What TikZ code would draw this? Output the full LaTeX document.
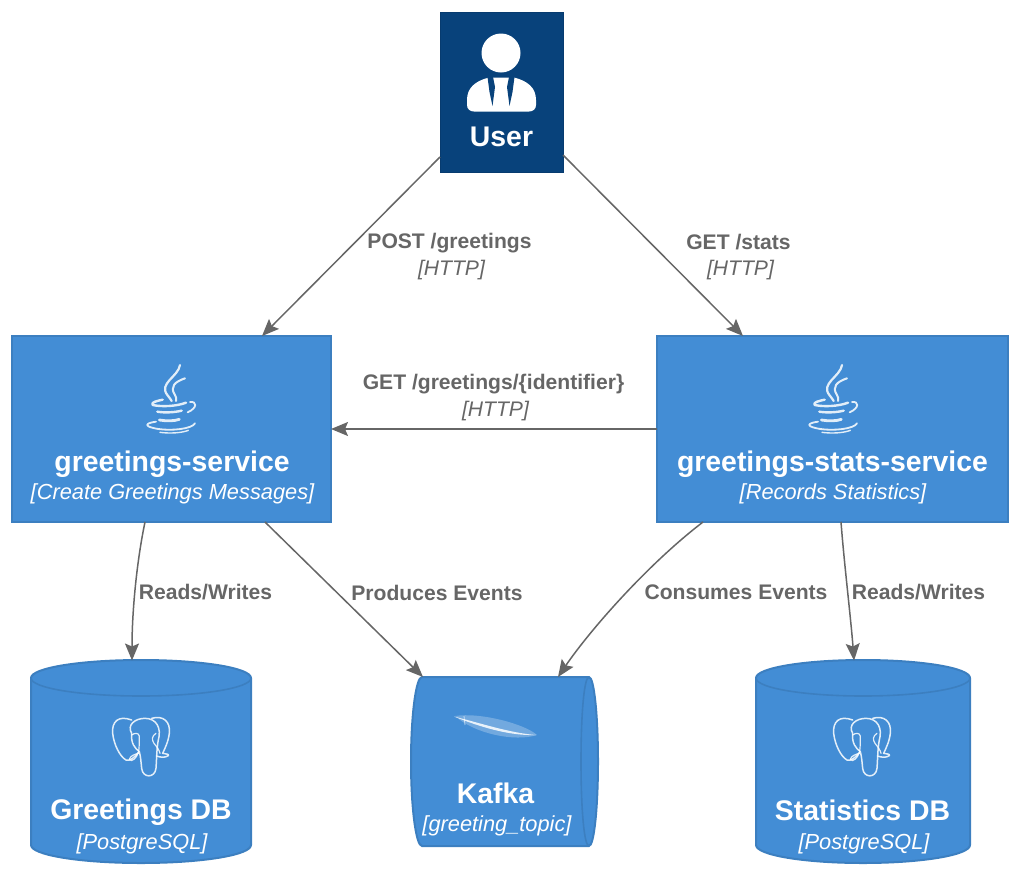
\documentclass[tikz,border=0pt]{standalone}
\usepackage{fontspec}
\setmainfont{Liberation Sans}
\usetikzlibrary{arrows.meta}
\definecolor{cblue}{HTML}{438DD5}
\definecolor{cborder}{HTML}{3C7FC0}
\definecolor{cuser}{HTML}{08427B}
\definecolor{cuserb}{HTML}{073B6F}
\definecolor{cgrey}{HTML}{666666}
\tikzset{
  box/.style={draw=cborder,fill=cblue,line width=1.6pt,inner sep=0pt,outer sep=0pt},
  userbox/.style={draw=cuserb,fill=cuser,line width=0.8pt,inner sep=0pt,outer sep=0pt},
  anchorbox/.style={inner sep=0pt,outer sep=0pt},
  title/.style={text=white,font=\fontsize{28.4}{30}\selectfont\bfseries,inner sep=0pt},
  sub/.style={text=white,font=\fontsize{21.8}{24}\selectfont\itshape,inner sep=0pt},
  elabel/.style={text=cgrey,font=\fontsize{21.1}{24}\selectfont\bfseries,inner sep=0pt},
  esub/.style={text=cgrey,font=\fontsize{21.1}{24}\selectfont\itshape,inner sep=0pt},
  conn/.style={draw=cgrey,line width=1.5pt,-{Stealth[length=17pt,width=14pt,inset=3pt,fill=cgrey]}},
  cyl/.style={draw=cborder,fill=cblue,line width=2pt},
  cylin/.style={draw=cborder,line width=1.6pt},
  ico/.style={draw=white,line cap=round,line join=round,opacity=0.85},
}
\newcommand{\javaicon}[2]{%
 \begin{scope}[shift={(#1,#2)},x=0.3333pt,y=-0.3333pt]
  \draw[ico,line width=2.2pt] (150,30) .. controls (145,65) and (85,85) .. (112,120) .. controls (118,128) and (122,132) .. (125,138);
  \draw[ico,line width=2pt] (165,70) .. controls (135,80) and (118,95) .. (135,120) .. controls (138,126) and (140,130) .. (138,138);
  \draw[ico,line width=2.4pt] (98,134) .. controls (80,138) and (62,142) .. (68,150) .. controls (95,156) and (140,154) .. (168,143);
  \draw[ico,line width=2.4pt] (82,170) .. controls (105,174) and (135,172) .. (155,167);
  \draw[ico,line width=2.8pt] (88,195) .. controls (110,199) and (135,198) .. (148,193);
  \draw[ico,line width=1.8pt] (180,141) .. controls (200,138) and (204,158) .. (173,172);
  \draw[ico,line width=1.8pt] (78,200) .. controls (42,205) and (42,215) .. (85,222) .. controls (125,228) and (185,222) .. (195,205);
  \draw[ico,line width=1.4pt] (90,232) .. controls (120,236) and (155,234) .. (175,226);
 \end{scope}}
\newcommand{\elephanticon}[2]{%
 \begin{scope}[shift={(#1,#2)},x=0.3333pt,y=-0.3333pt]
  \draw[ico,line width=1.5pt] (335,210) .. controls (295,195) and (275,215) .. (278,250) .. controls (282,285) and (300,320) .. (318,330) .. controls (330,335) and (345,320) .. (355,308);
  \draw[ico,line width=1.5pt] (335,250) .. controls (320,225) and (345,205) .. (375,205) .. controls (410,205) and (425,235) .. (415,270) .. controls (410,295) and (410,330) .. (408,355) .. controls (405,385) and (368,385) .. (365,355) .. controls (363,335) and (362,320) .. (358,305) .. controls (345,295) and (332,280) .. (335,250);
  \draw[ico,line width=1.5pt] (395,205) .. controls (430,195) and (452,215) .. (448,250) .. controls (445,275) and (435,295) .. (428,310) .. controls (438,312) and (448,312) .. (445,317) .. controls (435,324) and (420,322) .. (410,318);
  \draw[ico,line width=1.2pt] (335,255) .. controls (345,248) and (355,248) .. (358,258) .. controls (358,275) and (358,290) .. (356,305) .. controls (350,325) and (335,338) .. (328,328) .. controls (330,318) and (345,312) .. (356,310);
  \draw[ico,line width=1.2pt] (408,250) .. controls (395,258) and (395,270) .. (402,280) .. controls (410,290) and (418,300) .. (420,310);
 \end{scope}}
\begin{document}
\begin{tikzpicture}[x=1pt,y=-1pt]
\useasboundingbox (0,0) rectangle (1016,873);
% boxes
\node[userbox,minimum width=123pt,minimum height=160pt] (user) at (501.5,92) {};
\node[box,minimum width=319pt,minimum height=186pt] (gs) at (171.5,429) {};
\node[box,minimum width=351pt,minimum height=186pt] (gss) at (832.5,429) {};
% cylinders
\node[anchorbox,minimum width=220pt,minimum height=203pt] (gdb) at (141,660.5+101.5) {};
\node[anchorbox,minimum width=214pt,minimum height=203pt] (sdb) at (863,660.5+101.5) {};
\node[anchorbox,minimum width=187pt,minimum height=169pt] (kafka) at (504.5,761.5) {};
\draw[cyl] (31,678) .. controls (31,668) and (80,660) .. (141,660) .. controls (202,660) and (251,668) .. (251,678) -- (251,845) .. controls (251,855) and (202,863) .. (141,863) .. controls (80,863) and (31,855) .. (31,845) -- cycle;
\draw[cylin] (31,678) .. controls (31,688) and (80,696) .. (141,696) .. controls (202,696) and (251,688) .. (251,678);
\draw[cyl] (756,678) .. controls (756,668) and (804,660) .. (863,660) .. controls (922,660) and (970,668) .. (970,678) -- (970,845) .. controls (970,855) and (922,863) .. (863,863) .. controls (804,863) and (756,855) .. (756,845) -- cycle;
\draw[cylin] (756,678) .. controls (756,688) and (804,696) .. (863,696) .. controls (922,696) and (970,688) .. (970,678);
\draw[cyl] (422,677) -- (589,677) .. controls (594,677) and (598,715) .. (598,761.5) .. controls (598,808) and (594,846) .. (589,846) -- (422,846) .. controls (416,846) and (411,808) .. (411,761.5) .. controls (411,715) and (416,677) .. (422,677) -- cycle;
\draw[cylin] (589,677) .. controls (584,677) and (581,715) .. (581,761.5) .. controls (581,808) and (584,846) .. (589,846);
% user icon
\fill[white] (501,53) circle[radius=19.5pt];
\fill[white] (489,77.5) .. controls (475,81) and (467,88) .. (467,100) -- (467,105) .. controls (467,109) and (470,111.5) .. (474,111.5) -- (529,111.5) .. controls (533,111.5) and (536,109) .. (536,105) -- (536,100) .. controls (536,88) and (528,81) .. (514,77.5) -- cycle;
\fill[cuser] (487.5,77) -- (493,77) -- (495,87) -- (492.5,106) -- (489.5,92) -- cycle;
\fill[cuser] (514.5,77) -- (509,77) -- (507,87) -- (509.5,106) -- (512.5,92) -- cycle;
% icons
\javaicon{130}{355}
\javaicon{792}{355}
\elephanticon{20}{650}
\elephanticon{741}{650}
% feather
\fill[white,opacity=0.25] (455,716) .. controls (480,712) and (525,724) .. (537,735) .. controls (515,742) and (475,734) .. (455,716) -- cycle;
\fill[white,opacity=0.85] (454,716.5) .. controls (480,723) and (510,733) .. (536,735) .. controls (510,736) and (480,727) .. (454,716.5) -- cycle;
\draw[white,opacity=0.6,line width=0.8pt] (464,716) -- (465,725);
% texts
\node[title] (t1) at (501.5,137) {User};
\node[title] (t2) at (172,464) {greetings-service};
\node[sub] (s2) at (172.5,493.5) {[Create Greetings Messages]};
\node[title] (t3) at (832.5,464) {greetings-stats-service};
\node[sub] (s3) at (833,493.5) {[Records Statistics]};
\node[title] (t4) at (141,812) {Greetings DB};
\node[sub] (s4) at (142,843.5) {[PostgreSQL]};
\node[title] (t5) at (862.5,810) {Statistics DB};
\node[sub] (s5) at (864,843.5) {[PostgreSQL]};
\node[title] (t6) at (495.5,793) {Kafka};
\node[sub] (s6) at (497,826) {[greeting\_topic]};
% connectors
\draw[conn] ([yshift=15pt]user.south west) -- ([xshift=-69pt]gs.north east);
\draw[conn] ([yshift=17pt]user.south east) -- ([xshift=86pt]gss.north west);
\draw[conn] (gss.west) -- (gs.east);
\draw[conn] ([xshift=133pt]gs.south west) .. controls +(-8,38) and (132,610) .. ([xshift=-9pt]gdb.north);
\draw[conn] ([xshift=253pt]gs.south west) -- ([xshift=12pt]kafka.north west);
\draw[conn] ([xshift=46pt]gss.south west) .. controls +(-55,42) and (590,630) .. ([xshift=-40pt]kafka.north east);
\draw[conn] ([xshift=184pt]gss.south west) .. controls +(3,40) and (851,620) .. ([xshift=-9pt]sdb.north);
% labels
\node[elabel] (l1) at (449.5,243) {POST /greetings};
\node[esub] (l1s) at (451.5,270) {[HTTP]};
\node[elabel] (l2) at (738.5,242) {GET /stats};
\node[esub] (l2s) at (740.5,270) {[HTTP]};
\node[elabel] (l3) at (493.5,384) {GET /greetings/\{identifier\}};
\node[esub] (l3s) at (495.5,411) {[HTTP]};
\node[elabel] (l4) at (205.5,592.5) {Reads/Writes};
\node[elabel] (l5) at (437,592.5) {Produces Events};
\node[elabel] (l6) at (736,592.5) {Consumes Events};
\node[elabel] (l7) at (918.5,592.5) {Reads/Writes};
\end{tikzpicture}
\end{document}
